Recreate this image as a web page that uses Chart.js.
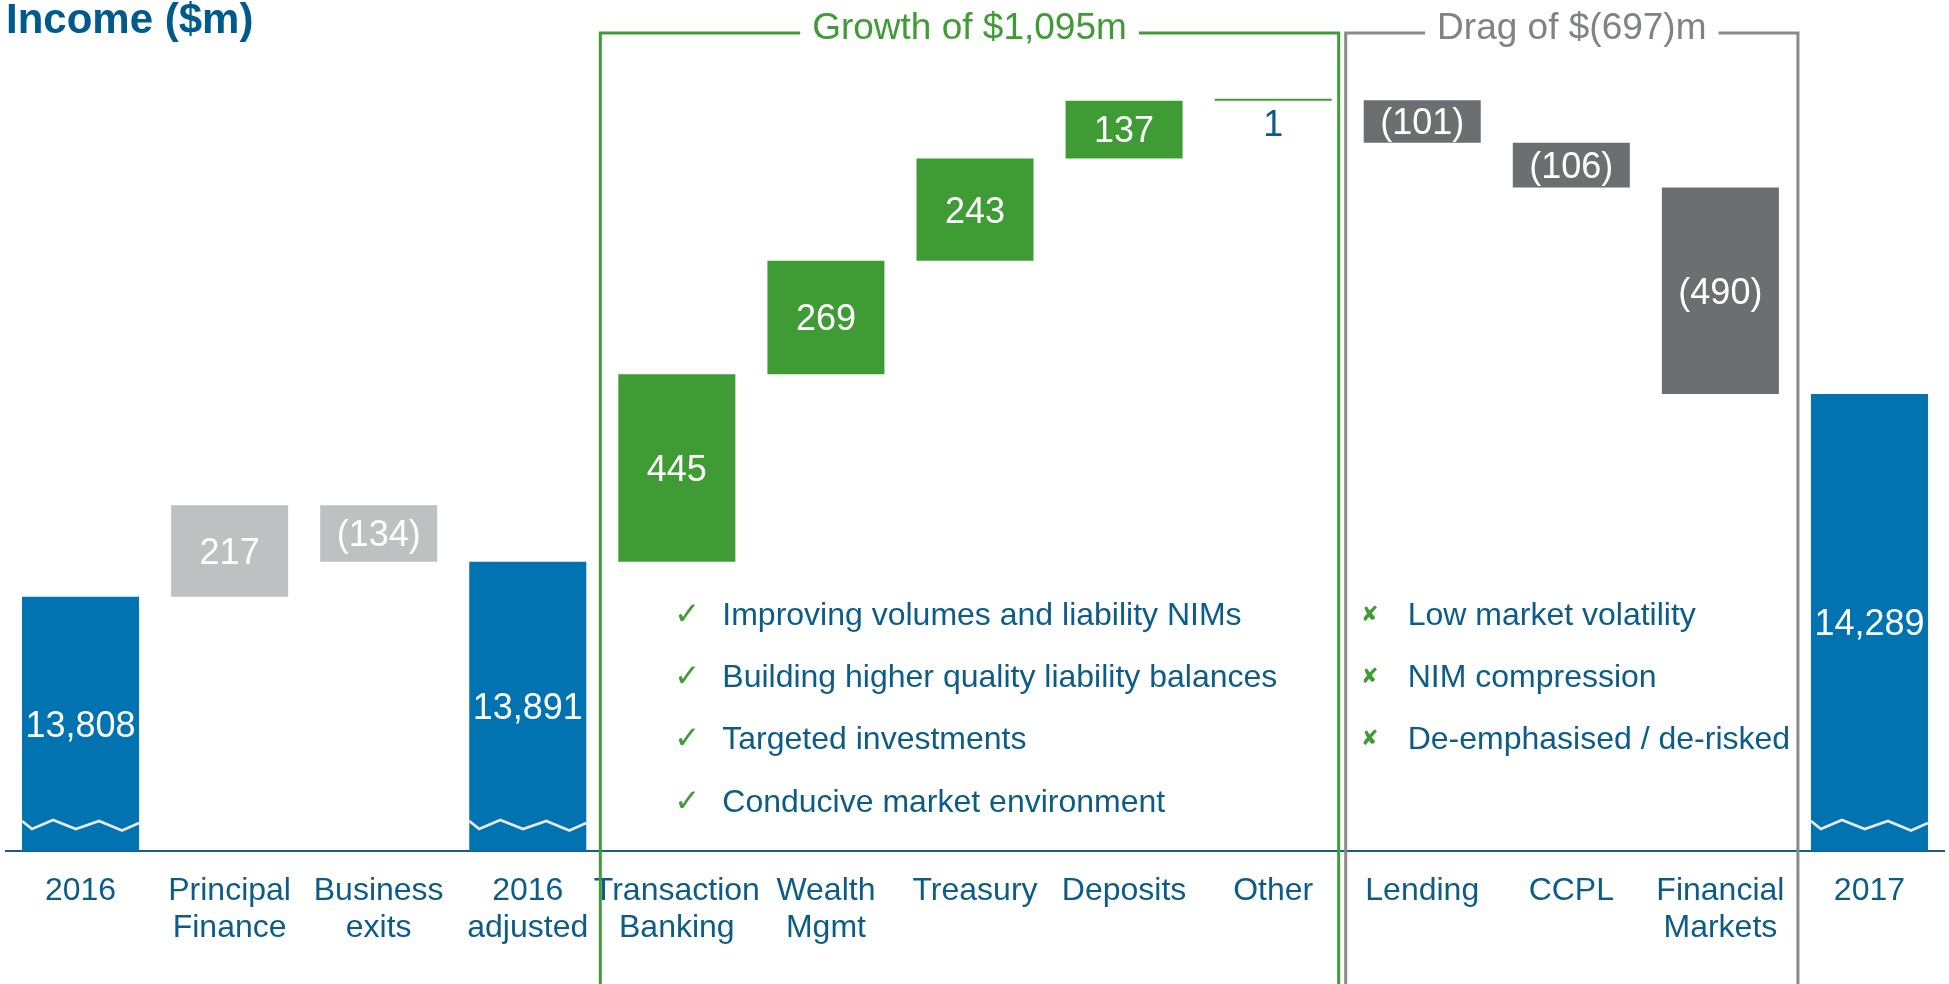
<!DOCTYPE html>
<html><head><meta charset="utf-8">
<script src="https://cdn.jsdelivr.net/npm/chart.js@4.4.1/dist/chart.umd.min.js"></script>
<style>html,body{margin:0;padding:0;background:#fff;overflow:hidden}</style>
</head><body>
<canvas id="c" width="1949" height="984"></canvas>
<script>
// ---------- data ----------
const categories = [['2016'],['Principal','Finance'],['Business','exits'],['2016','adjusted'],['Transaction','Banking'],['Wealth','Mgmt'],['Treasury'],['Deposits'],['Other'],['Lending'],['CCPL'],['Financial','Markets'],['2017']];
const values = [13808, 217, -134, 13891, 445, 269, 243, 137, 1, -101, -106, -490, 14289];
const kinds = ['total','adjust','adjust','total','growth','growth','growth','growth','growth','drag','drag','drag','total'];
const chartTitle = 'Income ($m)';
const growthTitle = 'Growth of $1,095m';
const dragTitle = 'Drag of $(697)m';
const growthPoints = ['Improving volumes and liability NIMs','Building higher quality liability balances','Targeted investments','Conducive market environment'];
const dragPoints = ['Low market volatility','NIM compression','De-emphasised / de-risked'];
const axisFloor = 13205, axisCeil = 15200;

// ---------- styles ----------
const FONT = '"Liberation Sans", Arial, sans-serif';
const TEXT_BLUE = '#0b5c87';
const colorOf = {total:'#0073b0', adjust:'#bfc0c2', growth:'#3f9c35', drag:'#6d6e71'};
const GREEN = '#3f9c35', GREY_BOX = '#8a8a8c';

// waterfall ranges built from the values
let run = 0;
const ranges = values.map((v,i)=>{
  if (kinds[i]==='total'){ run = v; return [axisFloor, v]; }
  const a = run, b = run + v; run = b; return [Math.min(a,b), Math.max(a,b)];
});
const fmt = v => v < 0 ? '(' + Math.abs(v).toLocaleString('en-US') + ')' : v.toLocaleString('en-US');

const overlay = {
  id:'overlay',
  afterDatasetsDraw(chart){
    const ctx = chart.ctx, meta = chart.getDatasetMeta(0), xs = chart.scales.x, area = chart.chartArea;
    const H = chart.height;
    ctx.save();
    // zigzag break marks on total bars
    const fx = [0,.085,.265,.46,.658,.855,1], fy = [-30,-22,-31,-22,-30,-20.5,-28];
    meta.data.forEach((bar,i)=>{
      if (kinds[i]!=='total') return;
      const p = bar.getProps(['x','y','base','width'], true);
      const l = p.x - p.width/2;
      ctx.beginPath();
      fx.forEach((f,k)=>{ const X = l + f*p.width, Y = area.bottom + fy[k]; k?ctx.lineTo(X,Y):ctx.moveTo(X,Y); });
      ctx.strokeStyle = '#e8e9ea'; ctx.lineWidth = 2.8; ctx.lineJoin='miter'; ctx.stroke();
    });
    // value labels
    ctx.textAlign = 'center'; ctx.textBaseline = 'middle';
    ctx.font = '36px ' + FONT;
    meta.data.forEach((bar,i)=>{
      const p = bar.getProps(['x','y','base'], true);
      const top = Math.min(p.y,p.base), bot = Math.max(p.y,p.base);
      if (bot - top < 20){
        ctx.fillStyle = TEXT_BLUE; ctx.fillText(fmt(values[i]), p.x, bot + 25);
      } else {
        ctx.fillStyle = '#ffffff'; ctx.fillText(fmt(values[i]), p.x, (top+bot)/2 + 3);
      }
    });
    // boxes
    const drawBox = (x1,x2,yTop,color,title,titleColor)=>{
      ctx.font = '37px ' + FONT;
      const cx = (x1+x2)/2, tw = ctx.measureText(title).width, gap = 12;
      ctx.strokeStyle = color; ctx.lineWidth = 3; ctx.lineCap='butt';
      ctx.beginPath();
      ctx.moveTo(x1, H); ctx.lineTo(x1, yTop); ctx.lineTo(cx - tw/2 - gap, yTop);
      ctx.moveTo(cx + tw/2 + gap, yTop); ctx.lineTo(x2, yTop); ctx.lineTo(x2, H);
      ctx.stroke();
      ctx.fillStyle = titleColor; ctx.textAlign='center'; ctx.textBaseline='alphabetic';
      ctx.fillText(title, cx, 39);
    };
    const gL = xs.getPixelForValue(3.5) - 2, gR = xs.getPixelForValue(8.5) - 9;
    const dL = xs.getPixelForValue(8.5) - 2, dR = xs.getPixelForValue(11.5) + 3;
    drawBox(gL, gR, 33, GREEN, growthTitle, GREEN);
    drawBox(dL, dR, 33, GREY_BOX, dragTitle, '#808285');
    // bullet lists
    ctx.textBaseline='alphabetic';
    growthPoints.forEach((t,i)=>{
      const y = 625 + i*62.2;
      ctx.font = '31px "DejaVu Sans"'; ctx.fillStyle = GREEN; ctx.textAlign='center';
      ctx.fillText('\u2713', gL + 87, y - 1);
      ctx.font = '32px ' + FONT; ctx.fillStyle = TEXT_BLUE; ctx.textAlign='left';
      ctx.fillText(t, gL + 122, y);
    });
    dragPoints.forEach((t,i)=>{
      const y = 625 + i*62.2;
      ctx.font = 'bold 21px "DejaVu Sans"'; ctx.fillStyle = GREEN; ctx.textAlign='center';
      ctx.fillText('\u2718', dL + 24, y - 4);
      ctx.font = '32px ' + FONT; ctx.fillStyle = TEXT_BLUE; ctx.textAlign='left';
      ctx.fillText(t, dL + 62, y);
    });
    // chart title
    ctx.font = 'bold 42px ' + FONT; ctx.fillStyle = '#005a8c'; ctx.textAlign='left';
    ctx.fillText(chartTitle, 6, 33);
    ctx.restore();
  }
};

new Chart(document.getElementById('c'), {
  type:'bar',
  data:{ labels: categories, datasets:[{ data: ranges, backgroundColor: kinds.map(k=>colorOf[k]), borderWidth:0, barPercentage:0.785, categoryPercentage:1, minBarLength:2 }]},
  options:{
    responsive:false, animation:false,
    layout:{ padding:{ left:6, right:5, top:10, bottom:0 } },
    plugins:{ legend:{display:false}, tooltip:{enabled:false}, title:{display:false} },
    scales:{
      x:{
        grid:{ display:false, drawTicks:false },
        border:{ display:true, color:'#1d5b80', width:2 },
        ticks:{ color:TEXT_BLUE, font:{ family:FONT, size:32, lineHeight:1.15 }, padding:22, autoSkip:false, maxRotation:0, minRotation:0 },
        afterFit:(s)=>{ s.height = 133; }
      },
      y:{ display:false, min:axisFloor, max:axisCeil }
    }
  },
  plugins:[overlay]
});
</script>
</body></html>
